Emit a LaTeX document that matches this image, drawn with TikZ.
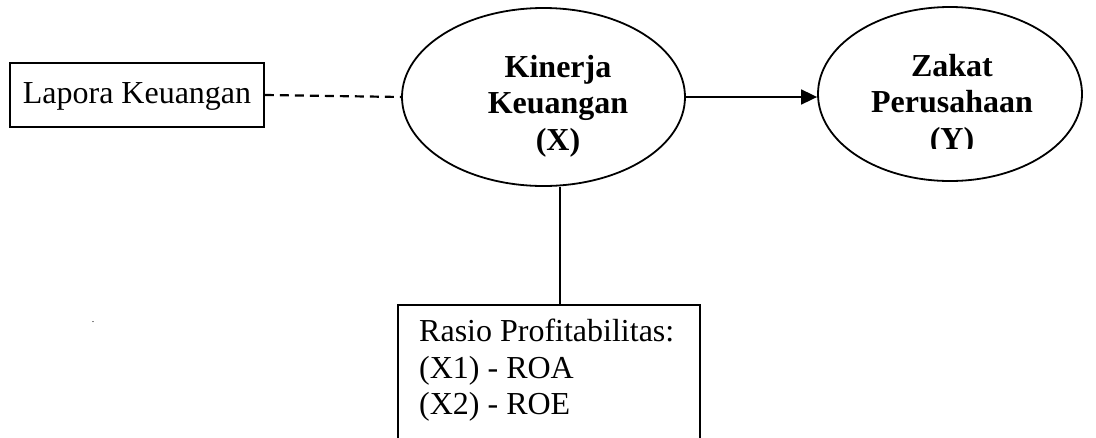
\documentclass[tikz,border=0pt]{standalone}
\usepackage{fontspec}
\setmainfont{Liberation Serif}
\usetikzlibrary{arrows.meta,shapes.geometric}
\begin{document}
\begin{tikzpicture}[x=1pt,y=-1pt,
  lw/.style={line width=1.8pt},
  boxnode/.style={draw,lw,rectangle,inner sep=0pt},
  ellnode/.style={draw,lw,ellipse,inner sep=0pt},
  txt/.style={font=\fontsize{32}{36.5}\selectfont,align=center,inner sep=0pt},
  btxt/.style={font=\fontsize{32}{36.5}\selectfont\bfseries,align=center,inner sep=0pt},
  dashline/.style={line width=2.2pt,dash pattern=on 9pt off 6pt},
  arr/.style={lw,-{Triangle[length=16pt,width=15pt]}}]
\useasboundingbox (0,0) rectangle (1096,437);
\clip (0,0) rectangle (1096,437);
\fill[white] (0,0) rectangle (1096,437);
% left box
\node[boxnode,minimum width=254pt,minimum height=64pt] (lap) at (137,95) {};
\node[txt] (laptxt) at (137,96) {Lapora Keuangan};
% ellipse X
\node[ellnode,minimum width=283pt,minimum height=178pt] (kin) at (543.5,97) {};
\node[btxt] (kintxt) at (558,106) {Kinerja\\Keuangan\\(X)};
% ellipse Y
\node[ellnode,minimum width=264pt,minimum height=174pt] (zak) at (950,94) {};
\begin{scope}
\clip (800,0) rectangle (1096,148);
\node[btxt] (zaktxt) at (952,105) {Zakat\\Perusahaan\\(Y)};
\end{scope}
% bottom box
\coordinate (rbtop) at (560,305);
\draw[lw] (398,460) -- (398,305) -- (700,305) -- (700,460);
\node[txt,align=left,anchor=north west] (rastxt) at (419,319) {Rasio Profitabilitas:\\(X1) - ROA\\(X2) - ROE};
% connectors
\draw[dashline] (lap.east) -- (kin.west);
\draw[arr] (kin.east) -- (zak.west |- kin.east);
\draw[lw] (kin.south -| rbtop) -- (rbtop);
% stray dot
\node[font=\fontsize{10}{10}\selectfont,inner sep=0pt] (dot) at (93,322) {.};
\end{tikzpicture}
\end{document}
